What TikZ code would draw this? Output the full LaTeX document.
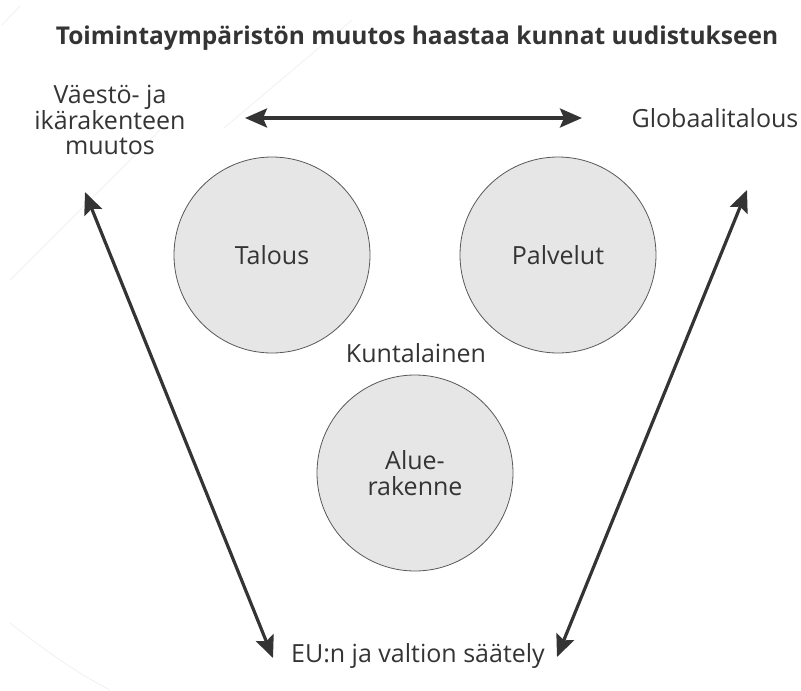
\documentclass[tikz,border=0pt]{standalone}
\usepackage{fontspec}
\setmainfont{Open Sans}
\usepackage{tikz}
\usetikzlibrary{arrows.meta}
\usepackage{xcolor}
\definecolor{ink}{HTML}{343434}
\definecolor{pallo}{HTML}{E6E6E6}

\begin{document}
\begin{tikzpicture}[x=1pt,y=-1pt,>={Stealth[length=22pt,width=19pt,inset=4pt]},
  font=\fontsize{25}{25}\selectfont,line cap=round,
  teksti/.style={text=ink,inner sep=0pt,align=center},
  ympyra/.style={circle,draw=gray!70!black,fill=pallo,line width=0.8pt,minimum size=196pt,inner sep=0pt,text=ink,align=center},
  nuoli/.style={<->,draw=ink,line width=3.2pt}]
\useasboundingbox (0,0) rectangle (801,691);
% faint background lines
\draw[gray!12,line width=0.8pt] (2,25) -- (20,6);
\draw[gray!12,line width=0.8pt] (352,20) -- (224,128);
\draw[gray!12,line width=0.8pt] (160,130) -- (10,280);
\draw[gray!12,line width=0.8pt] (10,623) .. controls (45,650) and (75,672) .. (110,690);
\node[teksti,font=\bfseries\fontsize{24.5}{25}\selectfont] (otsikko) at (417,38) {Toimintaympäristön muutos haastaa kunnat uudistukseen};
\node[teksti,font=\fontsize{25}{24.5}\selectfont] (vaesto) at (110,120) {Väestö- ja\\ikärakenteen\\muutos};
\node[teksti] (globaali) at (715,118) {Globaalitalous};
\node[teksti] (kuntalainen) at (416,353) {Kuntalainen};
\node[teksti] (saately) at (418,656) {EU:n ja valtion säätely};
\node[ympyra] (talous) at (272,255) {Talous};
\node[ympyra] (palvelut) at (558,255) {Palvelut};
\node[ympyra,font=\fontsize{25}{26}\selectfont] (alue) at (415,473) {Alue-\\rakenne};
\coordinate (h1) at (245,118);
\coordinate (h2) at (582,118);
\coordinate (v1) at (85,192);
\coordinate (v2) at (273,658);
\coordinate (o1) at (747,190);
\coordinate (o2) at (557,657);
\draw[nuoli] (h1) -- (h2);
\draw[nuoli] (v1) -- (v2);
\draw[nuoli] (o1) -- (o2);
\end{tikzpicture}
\end{document}
